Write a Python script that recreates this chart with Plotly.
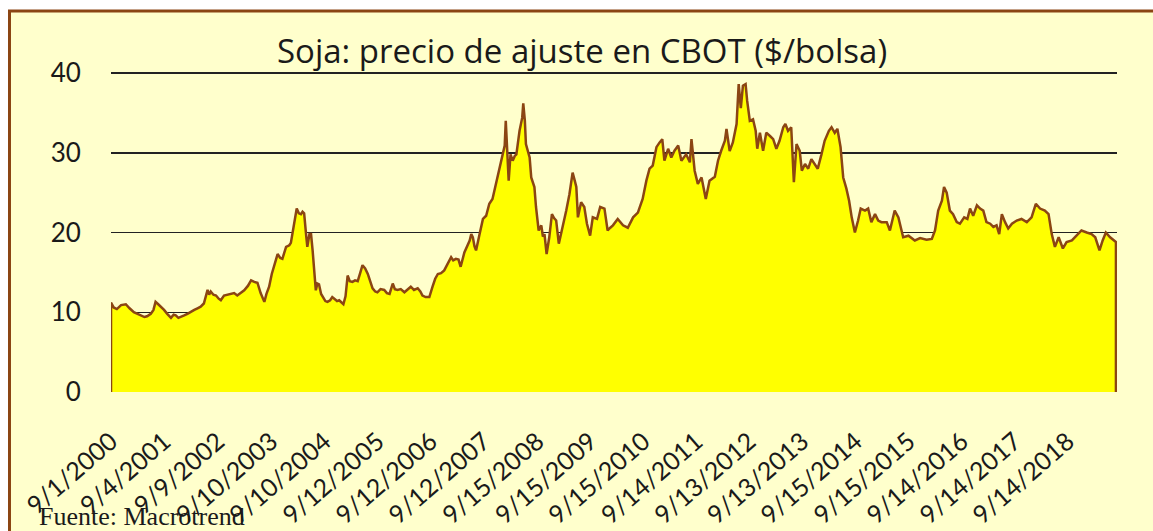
import plotly.graph_objects as go
from datetime import date

# ---- data (x in decimal years, y in $/bolsa) ----
years = [
    2000.67, 2000.72, 2000.78, 2000.86, 2000.95, 2001.02, 2001.10, 2001.17, 2001.23, 2001.30,
    2001.35, 2001.42, 2001.47, 2001.51, 2001.56, 2001.61, 2001.67, 2001.73, 2001.80, 2001.85,
    2001.89, 2001.94, 2001.99, 2002.05, 2002.11, 2002.18, 2002.24, 2002.30, 2002.36, 2002.42,
    2002.46, 2002.49, 2002.52, 2002.55, 2002.60, 2002.65, 2002.70, 2002.74, 2002.80, 2002.87,
    2002.93, 2002.99, 2003.05, 2003.12, 2003.18, 2003.25, 2003.31, 2003.37, 2003.43, 2003.49,
    2003.56, 2003.60, 2003.65, 2003.70, 2003.75, 2003.81, 2003.86, 2003.90, 2003.97, 2004.03,
    2004.06, 2004.12, 2004.17, 2004.21, 2004.25, 2004.28, 2004.31, 2004.35, 2004.37, 2004.41,
    2004.44, 2004.47, 2004.53, 2004.56, 2004.59, 2004.63, 2004.66, 2004.71, 2004.75, 2004.80,
    2004.84, 2004.88, 2004.93, 2004.97, 2005.01, 2005.05, 2005.09, 2005.13, 2005.17, 2005.22,
    2005.27, 2005.32, 2005.37, 2005.41, 2005.46, 2005.51, 2005.55, 2005.60, 2005.65, 2005.69,
    2005.75, 2005.82, 2005.87, 2005.92, 2005.98, 2006.02, 2006.07, 2006.13, 2006.20, 2006.26,
    2006.32, 2006.38, 2006.45, 2006.50, 2006.54, 2006.60, 2006.67, 2006.73, 2006.78, 2006.83,
    2006.89, 2006.95, 2007.02, 2007.08, 2007.12, 2007.17, 2007.22, 2007.26, 2007.33, 2007.39,
    2007.43, 2007.46, 2007.49, 2007.52, 2007.55, 2007.61, 2007.68, 2007.74, 2007.80, 2007.86,
    2007.93, 2007.99, 2008.05, 2008.09, 2008.11, 2008.14, 2008.165, 2008.20, 2008.24, 2008.28,
    2008.31, 2008.37, 2008.42, 2008.44, 2008.47, 2008.49, 2008.53, 2008.56, 2008.59, 2008.65,
    2008.68, 2008.73, 2008.78, 2008.81, 2008.84, 2008.88, 2008.93, 2008.98, 2009.02, 2009.06,
    2009.11, 2009.15, 2009.19, 2009.25, 2009.31, 2009.37, 2009.41, 2009.44, 2009.47, 2009.53,
    2009.59, 2009.64, 2009.70, 2009.75, 2009.83, 2009.89, 2009.97, 2010.03, 2010.08, 2010.13,
    2010.22, 2010.27, 2010.32, 2010.41, 2010.51, 2010.60, 2010.69, 2010.76, 2010.82, 2010.88,
    2010.95, 2011.01, 2011.06, 2011.10, 2011.17, 2011.23, 2011.29, 2011.36, 2011.42, 2011.51,
    2011.58, 2011.61, 2011.67, 2011.73, 2011.80, 2011.88, 2011.95, 2012.05, 2012.11, 2012.17,
    2012.24, 2012.27, 2012.33, 2012.39, 2012.46, 2012.50, 2012.54, 2012.58, 2012.63, 2012.66,
    2012.71, 2012.77, 2012.82, 2012.85, 2012.90, 2012.96, 2013.02, 2013.09, 2013.15, 2013.21,
    2013.27, 2013.34, 2013.38, 2013.43, 2013.49, 2013.54, 2013.59, 2013.65, 2013.69, 2013.75,
    2013.81, 2013.87, 2013.93, 2013.99, 2014.06, 2014.12, 2014.20, 2014.25, 2014.31, 2014.36,
    2014.42, 2014.47, 2014.53, 2014.58, 2014.63, 2014.69, 2014.75, 2014.80, 2014.88, 2014.94,
    2015.00, 2015.07, 2015.13, 2015.19, 2015.29, 2015.35, 2015.44, 2015.51, 2015.60, 2015.70,
    2015.82, 2015.92, 2016.04, 2016.14, 2016.20, 2016.26, 2016.33, 2016.37, 2016.42, 2016.48,
    2016.54, 2016.61, 2016.67, 2016.75, 2016.81, 2016.86, 2016.92, 2016.99, 2017.05, 2017.11,
    2017.17, 2017.24, 2017.30, 2017.36, 2017.41, 2017.46, 2017.52, 2017.58, 2017.65, 2017.74,
    2017.83, 2017.93, 2018.02, 2018.10, 2018.18, 2018.27, 2018.34, 2018.40, 2018.46, 2018.53,
    2018.61, 2018.68, 2018.78, 2018.87, 2018.96, 2019.06, 2019.15, 2019.22, 2019.30, 2019.36,
    2019.42, 2019.50, 2019.56, 2019.61,
]
prices = [
    11.2, 10.6, 10.4, 10.9, 11.0, 10.5, 10.0, 9.8, 9.6, 9.4,
    9.5, 9.8, 10.3, 11.3, 11.0, 10.7, 10.3, 9.8, 9.3, 9.7,
    9.6, 9.3, 9.4, 9.6, 9.8, 10.1, 10.3, 10.5, 10.7, 11.1,
    12.0, 12.8, 12.2, 12.6, 12.2, 12.1, 11.7, 11.5, 12.1, 12.2,
    12.3, 12.4, 12.1, 12.5, 12.75, 13.3, 14.0, 13.8, 13.7, 12.4,
    11.3, 12.3, 13.2, 14.8, 16.1, 17.3, 16.8, 16.7, 18.2, 18.4,
    18.7, 21.1, 23.0, 22.4, 22.3, 22.6, 22.4, 19.5, 18.2, 19.8,
    19.8, 17.75, 12.75, 13.6, 13.5, 12.3, 11.9, 11.4, 11.3, 11.5,
    11.9, 11.7, 11.4, 11.5, 11.2, 11.0, 12.0, 14.6, 13.9, 13.8,
    14.0, 13.9, 15.0, 15.9, 15.5, 14.8, 14.0, 13.0, 12.6, 12.5,
    12.9, 12.8, 12.4, 12.3, 13.6, 12.9, 12.8, 12.9, 12.5, 12.9,
    13.2, 12.8, 13.0, 12.6, 12.1, 11.9, 11.9, 13.2, 14.2, 14.8,
    14.9, 15.25, 16.2, 16.9, 16.5, 16.7, 16.6, 15.7, 17.5, 18.4,
    19.0, 19.8, 19.4, 18.3, 17.75, 19.6, 21.7, 22.1, 23.6, 24.2,
    26.3, 28.2, 29.6, 30.9, 34.0, 30.6, 26.5, 29.8, 29.0, 29.6,
    29.8, 32.75, 34.4, 36.2, 34.0, 31.1, 30.0, 29.4, 26.9, 25.7,
    23.2, 20.25, 20.9, 19.5, 19.8, 17.3, 19.4, 22.3, 21.8, 21.5,
    18.6, 19.8, 20.7, 22.75, 24.8, 27.5, 26.5, 25.7, 21.9, 23.8,
    23.2, 21.1, 19.6, 21.9, 21.7, 23.2, 23.0, 20.25, 20.6, 20.9,
    21.7, 21.3, 20.9, 20.6, 21.9, 22.5, 24.2, 26.5, 28.0, 28.4,
    30.7, 31.3, 31.7, 29.0, 30.5, 29.4, 30.25, 30.9, 29.0, 29.8,
    28.8, 31.7, 27.75, 26.1, 26.9, 24.2, 26.5, 27.0, 29.0, 30.25,
    31.5, 33.0, 30.2, 31.3, 33.6, 38.6, 35.6, 38.4, 38.6, 36.5,
    34.0, 34.2, 32.75, 30.5, 32.5, 30.25, 32.5, 32.1, 31.7, 30.5,
    31.5, 33.2, 33.6, 32.75, 33.2, 26.3, 31.1, 30.25, 27.75, 28.6,
    28.0, 29.2, 28.6, 28.0, 29.8, 31.5, 32.75, 33.2, 32.5, 33.0,
    30.7, 26.9, 25.5, 24.0, 21.9, 20.0, 21.5, 23.0, 22.75, 23.0,
    21.3, 22.3, 21.5, 21.3, 21.3, 20.25, 22.75, 21.9, 19.4, 19.6,
    19.0, 19.3, 19.1, 19.2, 20.25, 22.75, 24.0, 25.7, 25.0, 22.75,
    22.3, 21.3, 21.1, 21.9, 21.7, 23.0, 22.1, 23.4, 23.0, 22.75,
    21.3, 21.1, 20.7, 20.9, 19.8, 22.3, 21.3, 20.5, 21.1, 21.5,
    21.7, 21.3, 21.9, 23.6, 23.0, 22.75, 22.3, 19.8, 18.2, 19.4,
    18.0, 18.8, 19.0, 19.6, 20.25, 20.0, 19.8, 19.4, 17.75, 19.0,
    20.0, 19.4, 19.0, 18.8,
]
tick_labels = [
    "9/1/2000", "9/4/2001", "9/9/2002", "9/10/2003", "9/10/2004", "9/12/2005",
    "9/12/2006", "9/12/2007", "9/15/2008", "9/15/2009", "9/15/2010", "9/14/2011",
    "9/13/2012", "9/13/2013", "9/15/2014", "9/15/2015", "9/14/2016", "9/14/2017",
    "9/14/2018",
]
y_ticks = [0, 10, 20, 30, 40]
title_text = "Soja: precio de ajuste en CBOT ($/bolsa)"
source_text = "Fuente: Macrotrend"


def to_decimal_year(label):
    m, d, y = (int(p) for p in label.split("/"))
    doy = (date(y, m, d) - date(y, 1, 1)).days
    return y + doy / 365.0


tick_vals = [to_decimal_year(t) for t in tick_labels]

# close the area outline down to the baseline at both ends
x_area = [years[0]] + years + [years[-1]]
y_area = [0] + prices + [0]

BROWN = "#8B4513"
CREAM = "#FFFFCC"
TEXT = "#1a1a1a"

fig = go.Figure()
fig.add_trace(go.Scatter(
    x=x_area, y=y_area, mode="lines", fill="tozeroy",
    fillcolor="#FFFF00", line=dict(color=BROWN, width=2.5),
    hoverinfo="skip", showlegend=False,
))

W, H = 1153, 531
Y_TOP = 40.25  # small headroom so the 40 gridline is drawn
L, R, T, B = 111, 36, 71, 139
pw, ph = W - L - R, H - T - B


def px_x(px):
    return (px - L) / pw


def px_y(py):
    return (H - B - py) / ph


fig.update_layout(
    width=W, height=H,
    margin=dict(l=L, r=R, t=T, b=B, autoexpand=False),
    paper_bgcolor="white",
    plot_bgcolor="rgba(0,0,0,0)",
    showlegend=False,
    xaxis=dict(
        range=[years[0], 2019.63], automargin=False,
        tickmode="array", tickvals=tick_vals, ticktext=tick_labels,
        tickangle=-41, showgrid=False, zeroline=False, showline=False,
        ticks="outside", ticklen=24, tickcolor="rgba(0,0,0,0)",
        tickfont=dict(family="Lato", size=25, color=TEXT),
    ),
    yaxis=dict(
        range=[0, Y_TOP], automargin=False, tickmode="array", tickvals=y_ticks,
        showgrid=True, gridcolor="#222222", gridwidth=1.5,
        zeroline=False, showline=False,
        ticks="outside", ticklen=24, tickcolor="rgba(0,0,0,0)",
        tickfont=dict(family="Lato", size=26, color=TEXT),
    ),
    shapes=[dict(
        type="rect", xref="paper", yref="paper",
        x0=px_x(9.5), x1=px_x(1200), y0=px_y(600), y1=px_y(11),
        fillcolor=CREAM, line=dict(color=BROWN, width=3), layer="below",
    )],
    annotations=[
        dict(text=title_text, xref="paper", yref="paper",
             x=px_x(582), y=px_y(50), xanchor="center", yanchor="middle",
             showarrow=False, font=dict(family="Open Sans", size=33, color=TEXT)),
        dict(text=source_text, xref="paper", yref="paper",
             x=px_x(37), y=px_y(516), xanchor="left", yanchor="middle",
             showarrow=False,
             font=dict(family="Liberation Serif", size=26, color=TEXT)),
    ],
)

fig.write_html(
    "out.html",
    config={"displayModeBar": False, "staticPlot": True},
    post_script="document.body.style.margin='0';document.body.style.overflow='hidden';",
)
